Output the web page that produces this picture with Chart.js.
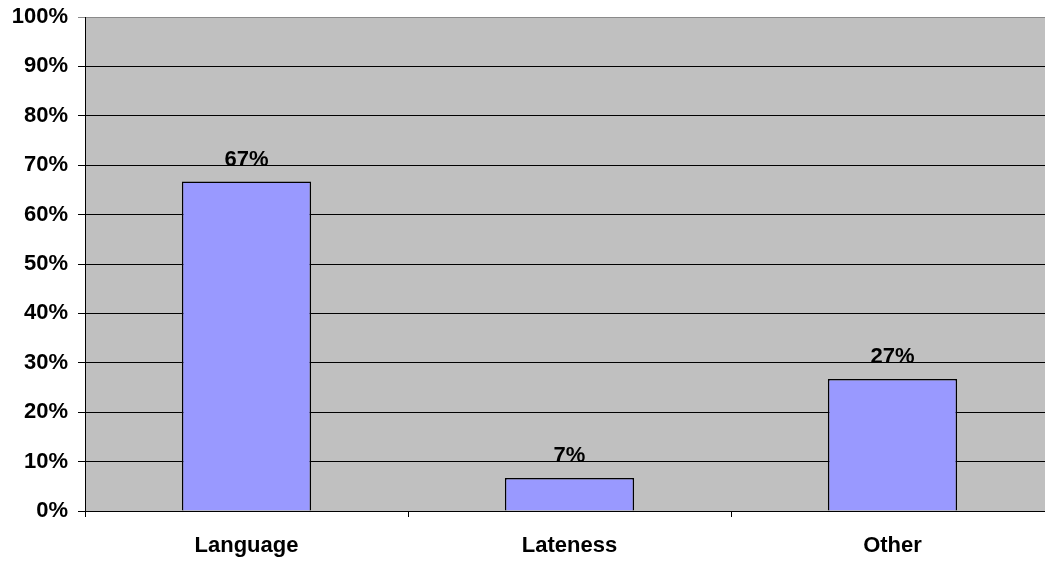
<!DOCTYPE html>
<html>
<head>
<meta charset="utf-8">
<script src="https://cdn.jsdelivr.net/npm/chart.js@4/dist/chart.umd.min.js"></script>
<style>
    html, body { margin: 0; padding: 0; background: #fff; overflow: hidden; }
    #wrap { width: 1054px; height: 563px; }
</style>
</head>
<body>
<div id="wrap"><canvas id="reasonChart" width="1054" height="563"></canvas></div>
<script>
// ================= DATA =================
const categories = ['Language', 'Lateness', 'Other'];
const shares = [66.7, 6.7, 26.7];
const shareLabels = ['67%', '7%', '27%'];
const yTicks = [0, 10, 20, 30, 40, 50, 60, 70, 80, 90, 100];

const FONT = '"Liberation Sans", Arial, sans-serif';

// gray plot background
const plotBg = {
    id: 'plotBg',
    beforeDraw(chart) {
        const a = chart.chartArea;
        const c = chart.ctx;
        c.save();
        c.fillStyle = '#C0C0C0';
        c.fillRect(a.left, a.top, a.right - a.left, a.bottom - a.top);
        c.restore();
    }
};

// value labels above the bars
const barLabels = {
    id: 'barLabels',
    afterDatasetsDraw(chart) {
        const c = chart.ctx;
        const meta = chart.getDatasetMeta(0);
        c.save();
        c.font = 'bold 22px ' + FONT;
        c.fillStyle = '#000';
        c.textAlign = 'center';
        c.textBaseline = 'alphabetic';
        meta.data.forEach((bar, i) => {
            c.fillText(shareLabels[i], bar.x, bar.y - 16);
        });
        c.restore();
    }
};

new Chart(document.getElementById('reasonChart'), {
    type: 'bar',
    data: {
        labels: categories,
        datasets: [{
            data: shares,
            backgroundColor: '#9999FF',
            borderColor: '#000',
            borderWidth: 1.5,
            categoryPercentage: 1,
            barPercentage: 0.4
        }]
    },
    options: {
        responsive: false,
        animation: false,
        layout: { padding: { top: 17, right: 0, left: 0, bottom: 0 } },
        plugins: {
            legend: { display: false },
            tooltip: { enabled: false }
        },
        scales: {
            x: {
                grid: {
                    offset: true,
                    drawOnChartArea: false,
                    drawTicks: true,
                    tickLength: 6,
                    color: '#000'
                },
                border: { color: '#000', width: 1 },
                ticks: {
                    color: '#000',
                    font: { family: FONT, size: 22, weight: 'bold' },
                    padding: 16,
                    maxRotation: 0
                },
                afterFit(scale) {
                    scale.height = 52;
                    scale.paddingLeft = 0;
                    scale.paddingRight = 0;
                }
            },
            y: {
                min: 0,
                max: 100,
                afterBuildTicks(scale) {
                    scale.ticks = yTicks.map(v => ({ value: v }));
                },
                grid: {
                    color: ctx => (ctx.tick && ctx.tick.value === 100) ? '#8a8a8a' : '#000',
                    lineWidth: 1,
                    tickLength: 7
                },
                border: { color: '#000', width: 1 },
                ticks: {
                    color: '#000',
                    font: { family: FONT, size: 22, weight: 'bold' },
                    padding: 10,
                    callback: v => v + '%'
                },
                afterFit(scale) {
                    scale.width = 85;
                    scale.paddingTop = 0;
                    scale.paddingBottom = 0;
                }
            }
        }
    },
    plugins: [plotBg, barLabels]
});
</script>
</body>
</html>
